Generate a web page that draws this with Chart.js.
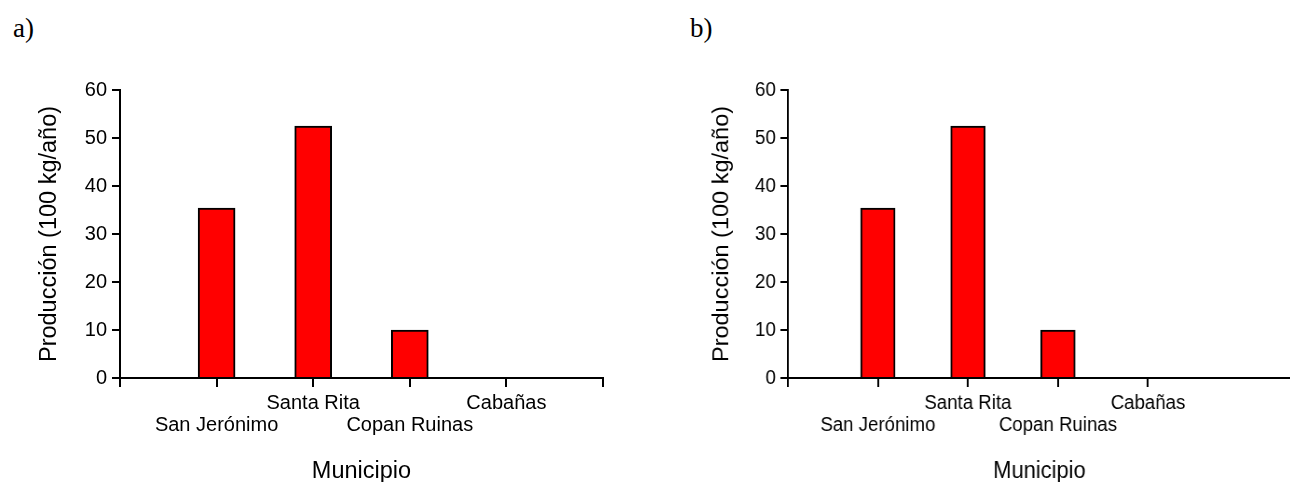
<!DOCTYPE html>
<html lang="es">
<head>
    <meta charset="UTF-8">
    <title>Producción por municipio</title>
    <script src="https://cdn.jsdelivr.net/npm/chart.js@4"></script>
    <style>
        body {
            margin: 0;
            width: 1290px;
            height: 482px;
            overflow: hidden;
            background: #fff;
            position: relative;
        }
        .panel-label {
            position: absolute;
            font-family: 'Liberation Serif', 'Times New Roman', serif;
            font-size: 27px;
            line-height: 27px;
            color: #000;
        }
        canvas {
            position: absolute;
            top: 0;
        }
        #chart-a { left: 0; }
        #chart-b {
            left: 676px;
            transform: scaleX(0.932);
            transform-origin: 0 0;
        }
    </style>
</head>
<body>
    <div class="panel-label" style="left:13px; top:15px;">a)</div>
    <div class="panel-label" style="left:690px; top:15px;">b)</div>
    <canvas id="chart-a" width="645" height="500"></canvas>
    <canvas id="chart-b" width="660" height="500"></canvas>

    <script>
        // data
        const municipios = ['San Jerónimo', 'Santa Rita', 'Copan Ruinas', 'Cabañas'];
        const produccionA = [35.4, 52.5, 10, 0];
        const produccionB = [35.4, 52.5, 10, 0];
        const yMin = 0;
        const yMax = 60;
        const yStep = 10;
        const yTitle = 'Producción (100 kg/año)';
        const xTitle = 'Municipio';

        Chart.defaults.color = '#000';
        Chart.defaults.font.family = "'Liberation Sans', Arial, sans-serif";

        // labels alternate between two rows
        function tickLabel(value) {
            const name = municipios[value - 1];
            if (!name) return '';
            return (value % 2 === 1) ? ['', name] : name;
        }

        function makeChart(id, values, xMax, lastTick, rightPad) {
            const ctx = document.getElementById(id).getContext('2d');
            return new Chart(ctx, {
                type: 'bar',
                data: {
                    datasets: [{
                        data: values.map((v, i) => ({ x: i + 1, y: v })),
                        backgroundColor: '#ff0000',
                        borderColor: '#000',
                        borderWidth: 2,
                        barThickness: 37
                    }]
                },
                options: {
                    responsive: false,
                    animation: false,
                    layout: {
                        padding: { left: 0, top: 90, right: rightPad, bottom: 14 }
                    },
                    plugins: {
                        legend: { display: false },
                        tooltip: { enabled: false }
                    },
                    scales: {
                        x: {
                            type: 'linear',
                            offset: false,
                            min: 0,
                            max: xMax,
                            afterBuildTicks: (scale) => {
                                scale.ticks = scale.ticks.filter(t => Number.isInteger(t.value) && t.value <= lastTick);
                            },
                            afterFit: (scale) => { scale.height = 108; },
                            ticks: {
                                stepSize: 1,
                                autoSkip: false,
                                maxRotation: 0,
                                minRotation: 0,
                                padding: 5,
                                font: { size: 20, lineHeight: 1.1 },
                                callback: (value) => tickLabel(value)
                            },
                            grid: {
                                offset: false,
                                drawOnChartArea: false,
                                drawTicks: true,
                                tickLength: 9,
                                color: '#000',
                                lineWidth: 2
                            },
                            border: { display: true, color: '#000', width: 2 },
                            title: {
                                display: true,
                                text: xTitle,
                                font: { size: 23.5 },
                                padding: { top: 0, bottom: 0 }
                            }
                        },
                        y: {
                            min: yMin,
                            max: yMax,
                            afterFit: (scale) => { scale.width = 120; },
                            ticks: {
                                stepSize: yStep,
                                padding: 5,
                                font: { size: 20 }
                            },
                            grid: {
                                drawOnChartArea: false,
                                drawTicks: true,
                                tickLength: 8,
                                color: '#000',
                                lineWidth: 2
                            },
                            border: { display: true, color: '#000', width: 2 },
                            title: {
                                display: true,
                                text: yTitle,
                                font: { size: 23.5 },
                                padding: { top: 35, bottom: 0 }
                            }
                        }
                    }
                }
            });
        }

        makeChart('chart-a', produccionA, 5, 5, 42);
        // panel b: axis runs on past the last category, up to the edge
        makeChart('chart-b', produccionB, 5.59, 4, 0);
    </script>
</body>
</html>
